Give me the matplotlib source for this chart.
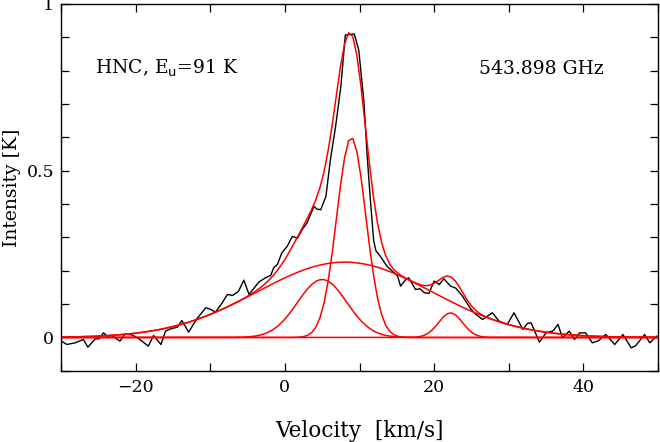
import numpy as np
import matplotlib
matplotlib.use('Agg')
import matplotlib.pyplot as plt
from matplotlib.ticker import MultipleLocator

velocity = [-30.3, -29.2, -28.1, -27.0, -26.4, -25.4, -24.9, -24.3, -23.8, -23.2,
            -22.1, -21.4, -20.5, -19.6, -18.3, -17.6, -16.6, -16.0, -15.3, -14.4,
            -13.8, -12.9, -11.8, -10.6, -10.0, -9.3, -8.4, -7.7, -7.0, -6.2,
            -5.5, -4.8, -4.2, -3.5, -2.6, -1.9, -1.5, -1.0, -0.4, 0.3,
            1.0, 1.7, 2.3, 3.0, 3.9, 4.3, 4.8, 5.5, 6.1, 6.8,
            7.5, 8.1, 9.3, 9.9, 10.6, 11.0, 11.5, 11.9, 12.2, 12.8,
            13.7, 14.4, 15.1, 15.5, 16.2, 16.6, 17.5, 18.1, 18.7, 19.3,
            20.0, 20.7, 21.3, 22.2, 22.9, 23.8, 24.9, 25.6, 26.5, 27.8,
            28.7, 29.8, 30.7, 31.9, 32.5, 33.0, 34.1, 35.0, 35.9, 36.6,
            37.2, 38.1, 38.8, 39.5, 40.3, 41.2, 42.0, 43.0, 44.2, 45.3,
            46.4, 47.0, 48.2, 48.9, 49.8, 50.5]
intensity = [-0.006, -0.021, -0.016, -0.006, -0.029, -0.004, -0.004, 0.014, 0.004, 0.006,
             -0.011, 0.010, 0.008, -0.003, -0.026, 0.006, -0.021, 0.019, 0.026, 0.031,
             0.051, 0.016, 0.056, 0.089, 0.085, 0.076, 0.104, 0.129, 0.126, 0.139,
             0.172, 0.129, 0.146, 0.166, 0.179, 0.186, 0.209, 0.219, 0.254, 0.273,
             0.303, 0.298, 0.323, 0.345, 0.393, 0.385, 0.383, 0.423, 0.533, 0.633,
             0.752, 0.907, 0.910, 0.862, 0.705, 0.553, 0.400, 0.290, 0.260, 0.243,
             0.213, 0.199, 0.184, 0.154, 0.174, 0.179, 0.144, 0.146, 0.134, 0.132,
             0.169, 0.159, 0.176, 0.154, 0.148, 0.124, 0.086, 0.069, 0.054, 0.074,
             0.049, 0.039, 0.074, 0.024, 0.042, 0.044, -0.014, 0.014, 0.019, 0.039,
             -0.001, 0.019, -0.006, 0.014, 0.014, -0.016, -0.010, 0.009, -0.021, 0.009,
             -0.031, -0.025, 0.009, -0.016, 0.004, 0.0]

# gaussian fit components: centre (km/s), amplitude (K), sigma (km/s)
g_centre = [8.9, 5.0, 8.0, 22.2]
g_amp = [0.60, 0.174, 0.226, 0.074]
g_sigma = [1.95, 3.3, 11.7, 1.6]

chan = np.arange(-30.5, 50.6, 0.55)
comps = [a * np.exp(-(chan - c) ** 2 / (2 * s ** 2))
         for c, a, s in zip(g_centre, g_amp, g_sigma)]
total = np.sum(comps, axis=0)

plt.rcParams['font.family'] = 'DejaVu Serif'
fig = plt.figure(figsize=(6.6, 4.42), dpi=100)
ax = fig.add_axes([0.0924, 0.161, 0.9046, 0.830])

ax.plot(velocity, intensity, color='black', lw=1.0)
for comp in comps:
    ax.plot(chan, comp, color='red', lw=1.1)
ax.plot(chan, total, color='red', lw=1.1)

ax.set_xlim(-30, 50)
ax.set_ylim(-0.1, 1.0)
ax.xaxis.set_major_locator(MultipleLocator(20))
ax.xaxis.set_minor_locator(MultipleLocator(10))
ax.yaxis.set_major_locator(MultipleLocator(0.5))
ax.yaxis.set_minor_locator(MultipleLocator(0.1))
ax.set_yticks([0, 0.5, 1])
ax.set_yticklabels(['0', '0.5', '1'])
ax.tick_params(which='both', direction='in', top=True, right=True,
               length=6, width=0.9, labelsize=12.5)
ax.tick_params(axis='x', pad=6)
ax.tick_params(axis='y', pad=5)
for sp in ax.spines.values():
    sp.set_linewidth(1.0)

ax.set_xlabel('Velocity  [km/s]', fontsize=15.5, labelpad=17)
ax.set_ylabel('Intensity [K]', fontsize=13.5, labelpad=4)

ax.text(-25.5, 0.79, r'HNC, E$_{\rm u}$=91 K', fontsize=13.5)
ax.text(26.0, 0.79, '543.898 GHz', fontsize=13.5)

fig.savefig('out.png', dpi=100)
